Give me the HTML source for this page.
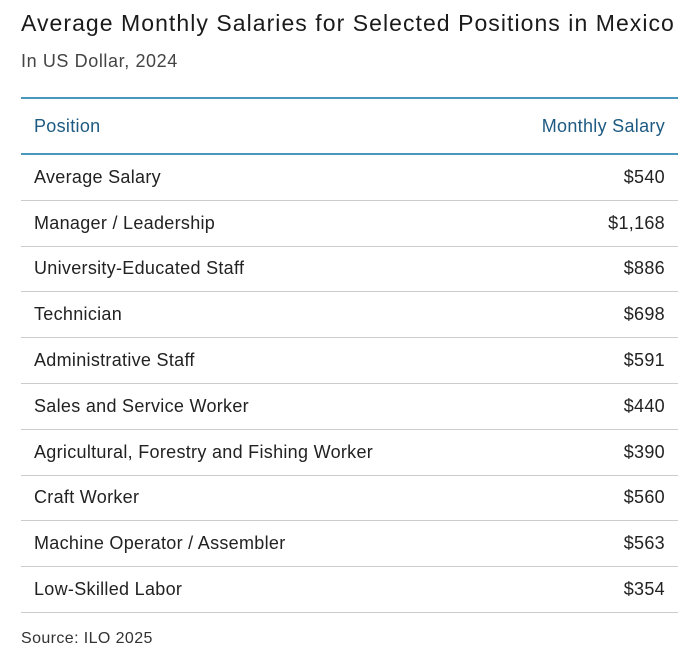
<!DOCTYPE html>
<html><head><meta charset="utf-8"><style>
body{margin:0;background:#fff;font-family:"Liberation Sans",sans-serif;color:#222;width:697px;height:657px;position:relative;overflow:hidden}
.t{position:absolute;left:21px;top:10px;font-size:23px;letter-spacing:1.05px;color:#1a1a1a;white-space:nowrap}
.s{position:absolute;left:21px;top:51px;font-size:18px;letter-spacing:0.6px;color:#444}
.tb{position:absolute;left:21px;top:97px;width:657px;border-top:2px solid #4a97bd}
.h{height:54px;border-bottom:2px solid #4a97bd;display:flex;justify-content:space-between;align-items:center;padding:0 13px;color:#1d5a82;font-size:18px;letter-spacing:0.3px}
.r{height:44.8px;border-bottom:1px solid #ccc;display:flex;justify-content:space-between;align-items:center;padding:0 13px;font-size:18px;letter-spacing:0.3px;color:#222}
.src{position:absolute;left:21px;top:630px;font-size:16px;letter-spacing:0.4px;color:#333}
</style></head><body>
<div class="t">Average Monthly Salaries for Selected Positions in Mexico</div>
<div class="s">In US Dollar, 2024</div>
<div class="tb">
<div class="h"><span>Position</span><span>Monthly Salary</span></div>
<div class="r"><span>Average Salary</span><span>$540</span></div>
<div class="r"><span>Manager / Leadership</span><span>$1,168</span></div>
<div class="r"><span>University-Educated Staff</span><span>$886</span></div>
<div class="r"><span>Technician</span><span>$698</span></div>
<div class="r"><span>Administrative Staff</span><span>$591</span></div>
<div class="r"><span>Sales and Service Worker</span><span>$440</span></div>
<div class="r"><span>Agricultural, Forestry and Fishing Worker</span><span>$390</span></div>
<div class="r"><span>Craft Worker</span><span>$560</span></div>
<div class="r"><span>Machine Operator / Assembler</span><span>$563</span></div>
<div class="r"><span>Low-Skilled Labor</span><span>$354</span></div>
</div>
<div class="src">Source: ILO 2025</div>
</body></html>
